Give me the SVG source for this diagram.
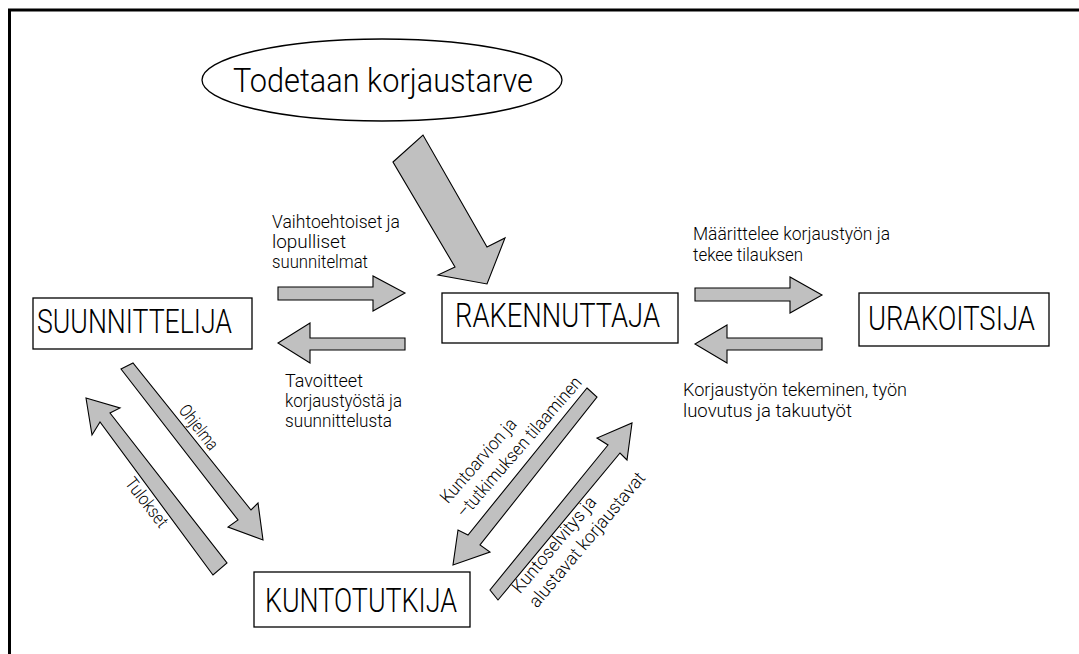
<svg xmlns="http://www.w3.org/2000/svg" width="1079" height="654" viewBox="0 0 1079 654">
<style>
.bg{fill:#ffffff}
.frame{fill:none;stroke:#000;stroke-width:3}
.box{fill:#fff;stroke:#000;stroke-width:1.3}
.arr{fill:#c0c0c0;stroke:#000;stroke-width:1.1;stroke-linejoin:miter}
.big{font-family:Roboto,"Liberation Sans",sans-serif;font-weight:300;font-size:33px;fill:#000}
.sm{font-family:Roboto,"Liberation Sans",sans-serif;font-weight:300;font-size:18px;fill:#000}
</style>
<rect class="bg" x="0" y="0" width="1079" height="654"/>
<path class="frame" d="M9.5,654 V10 H1079"/>

<g id="todetaan">
<ellipse class="box" cx="382" cy="80" rx="180" ry="41"/>
<text class="big" x="233" y="92" textLength="300" lengthAdjust="spacingAndGlyphs">Todetaan korjaustarve</text>
</g>

<g id="suunnittelija">
<rect class="box" x="33" y="298" width="219" height="51"/>
<text class="big" x="37" y="333" textLength="195" lengthAdjust="spacingAndGlyphs">SUUNNITTELIJA</text>
</g>

<g id="rakennuttaja">
<rect class="box" x="442" y="293" width="236" height="50"/>
<text class="big" x="455" y="327" textLength="205" lengthAdjust="spacingAndGlyphs">RAKENNUTTAJA</text>
</g>

<g id="urakoitsija">
<rect class="box" x="859" y="293" width="190" height="53"/>
<text class="big" x="868" y="330" textLength="167" lengthAdjust="spacingAndGlyphs">URAKOITSIJA</text>
</g>

<g id="kuntotutkija">
<rect class="box" x="254" y="572" width="216" height="55"/>
<text class="big" x="265" y="612" textLength="192" lengthAdjust="spacingAndGlyphs">KUNTOTUTKIJA</text>
</g>

<g id="connectors">
<polygon class="arr" points="393,162 423,135 487,247 505,238 487,284 438,275 455,267"/>
<polygon class="arr" points="278,287 373,287 373,276 405,293 373,311 373,300 278,300"/>
<polygon class="arr" points="405,338 310,338 310,323 278,343 310,363 310,350 405,350"/>
<polygon class="arr" points="695,288 790,288 790,277 822,295 790,313 790,301 695,301"/>
<polygon class="arr" points="822,338 727,338 727,325 695,344 727,363 727,350 822,350"/>
<polygon class="arr" points="121,369 133,363 251,510 258,503 263,540 228,527 238,520"/>
<polygon class="arr" points="86,398 120,408 110,413 227,563 213,575 100,422 92,435"/>
<polygon class="arr" points="587,388 597,397 480,545 490,552 453,565 458,530 468,535"/>
<polygon class="arr" points="632,423 627,460 620,453 498,600 490,590 608,445 597,438"/>

<text class="sm" x="272" y="228" textLength="128" lengthAdjust="spacingAndGlyphs">Vaihtoehtoiset ja</text>
<text class="sm" x="272" y="248" textLength="74" lengthAdjust="spacingAndGlyphs">lopulliset</text>
<text class="sm" x="272" y="268" textLength="96" lengthAdjust="spacingAndGlyphs">suunnitelmat</text>

<text class="sm" x="285" y="387" textLength="78" lengthAdjust="spacingAndGlyphs">Tavoitteet</text>
<text class="sm" x="285" y="407" textLength="117" lengthAdjust="spacingAndGlyphs">korjaustyöstä ja</text>
<text class="sm" x="285" y="427" textLength="107" lengthAdjust="spacingAndGlyphs">suunnittelusta</text>

<text class="sm" x="693" y="240" textLength="197" lengthAdjust="spacingAndGlyphs">Määrittelee korjaustyön ja</text>
<text class="sm" x="693" y="261" textLength="110" lengthAdjust="spacingAndGlyphs">tekee tilauksen</text>

<text class="sm" x="683" y="396" textLength="224" lengthAdjust="spacingAndGlyphs">Korjaustyön tekeminen, työn</text>
<text class="sm" x="683" y="417" textLength="169" lengthAdjust="spacingAndGlyphs">luovutus ja takuutyöt</text>

<text class="sm" transform="translate(198,428) rotate(52)" x="-26" y="5" textLength="52" lengthAdjust="spacingAndGlyphs">Ohjelma</text>
<text class="sm" transform="translate(146,503) rotate(52)" x="-29" y="5" textLength="58" lengthAdjust="spacingAndGlyphs">Tulokset</text>

<g transform="translate(445,502) rotate(-49)">
<text class="sm" x="0" y="4" textLength="106" lengthAdjust="spacingAndGlyphs">Kuntoarvion ja</text>
<text class="sm" x="0" y="26" textLength="180" lengthAdjust="spacingAndGlyphs">–tutkimuksen tilaaminen</text>
</g>
<g transform="translate(517,592) rotate(-50)">
<text class="sm" x="0" y="4" textLength="120" lengthAdjust="spacingAndGlyphs">Kuntoselvitys ja</text>
<text class="sm" x="0" y="26" textLength="170" lengthAdjust="spacingAndGlyphs">alustavat korjaustavat</text>
</g>
</g>
</svg>
